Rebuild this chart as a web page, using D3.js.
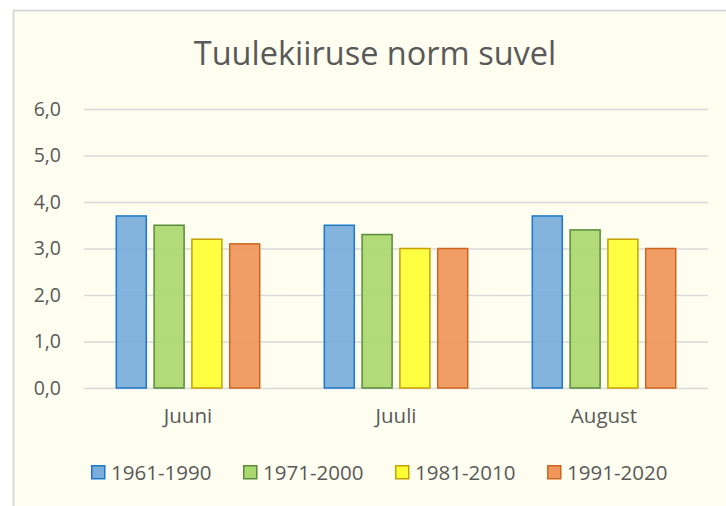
<!DOCTYPE html>
<html>
<head>
<meta charset="utf-8">
<script src="https://cdn.jsdelivr.net/npm/d3@7"></script>
<style>
  html, body { margin: 0; padding: 0; background: #ffffff; }
  svg { display: block; }
  text { font-family: "Open Sans", "Noto Sans", sans-serif; fill: #595959; }
</style>
</head>
<body>
<svg id="chart" width="726" height="506"></svg>
<script>
const title = "Tuulekiiruse norm suvel";
const categories = ["Juuni", "Juuli", "August"];
const seriesNames = ["1961-1990", "1971-2000", "1981-2010", "1991-2020"];
const s1961 = [3.7, 3.5, 3.7];
const s1971 = [3.5, 3.3, 3.4];
const s1981 = [3.2, 3.0, 3.2];
const s1991 = [3.1, 3.0, 3.0];
const yTicks = [0, 1, 2, 3, 4, 5, 6];
const fills = ["#7aacdc", "#a9d86e", "#ffff33", "#f0965a"];
const strokes = ["#1a78c8", "#5a8a3a", "#c8a000", "#cc6620"];

const seriesValues = [s1961, s1971, s1981, s1991];
const data = categories.map((c, i) => ({
  cat: c,
  values: seriesNames.map((s, j) => ({ series: s, idx: j, value: seriesValues[j][i] }))
}));

const svg = d3.select("#chart");

// chart area
svg.append("rect")
  .attr("x", 13.5).attr("y", 10.5)
  .attr("width", 760).attr("height", 520)
  .attr("fill", "#fefef0")
  .attr("stroke", "#d9d9d9").attr("stroke-width", 2);

const plot = { left: 84, right: 708, top: 109, bottom: 388 };

const y = d3.scaleLinear().domain([0, 6]).range([plot.bottom, plot.top]);
const x0 = d3.scaleBand().domain(categories).range([plot.left, plot.right]).padding(0);
const barStep = 37.8, barW = 30;
const pIn = (barStep - barW) / barStep;
const groupW = barStep * (seriesNames.length - pIn);
const x1 = d3.scaleBand().domain(seriesNames).range([0, groupW]).paddingInner(pIn).paddingOuter(0);
const groupOffset = (x0.bandwidth() - groupW) / 2;

// gridlines + y labels
const yAxis = d3.axisLeft(y).tickValues(yTicks)
  .tickSize(-(plot.right - plot.left))
  .tickPadding(23)
  .tickFormat(d => d3.format(".1f")(d).replace(".", ","));
const gy = svg.append("g").attr("transform", `translate(${plot.left},0)`).call(yAxis);
gy.select(".domain").remove();
gy.selectAll(".tick line").attr("stroke", "#d9d9d9").attr("stroke-width", 1.5);
gy.selectAll(".tick text").attr("font-size", 19.5).attr("fill", "#595959")
  .style("font-family", '"Open Sans", sans-serif');

// bars
const groups = svg.append("g").selectAll("g").data(data).join("g")
  .attr("transform", d => `translate(${x0(d.cat) + groupOffset},0)`);
groups.selectAll("rect").data(d => d.values).join("rect")
  .attr("x", d => x1(d.series))
  .attr("y", d => y(d.value))
  .attr("width", x1.bandwidth())
  .attr("height", d => y(0) - y(d.value))
  .attr("fill", d => fills[d.idx])
  .attr("fill-opacity", 0.92)
  .attr("stroke", d => strokes[d.idx])
  .attr("stroke-width", 1.5);

// x axis labels
const xAxis = d3.axisBottom(x0).tickSize(0).tickPadding(20);
const gx = svg.append("g").attr("transform", `translate(0,${plot.bottom})`).call(xAxis);
gx.select(".domain").remove();
gx.selectAll(".tick text").attr("font-size", 20.5).attr("fill", "#595959")
  .style("font-family", '"Open Sans", sans-serif');

// title
svg.append("text")
  .attr("x", 375).attr("y", 65)
  .attr("text-anchor", "middle")
  .attr("font-size", 32.5)
  .text(title);

// legend
const legendStart = 91, legendStep = 152;
const lg = svg.append("g").selectAll("g").data(seriesNames).join("g")
  .attr("transform", (d, i) => `translate(${legendStart + i * legendStep},465)`);
lg.append("rect")
  .attr("x", 0.75).attr("y", 0.75).attr("width", 13).attr("height", 13)
  .attr("fill", (d, i) => fills[i]).attr("stroke", (d, i) => strokes[i]).attr("stroke-width", 1.5);
lg.append("text")
  .attr("x", 20).attr("y", 14.5)
  .attr("font-size", 20.5)
  .text(d => d);
</script>
</body>
</html>
